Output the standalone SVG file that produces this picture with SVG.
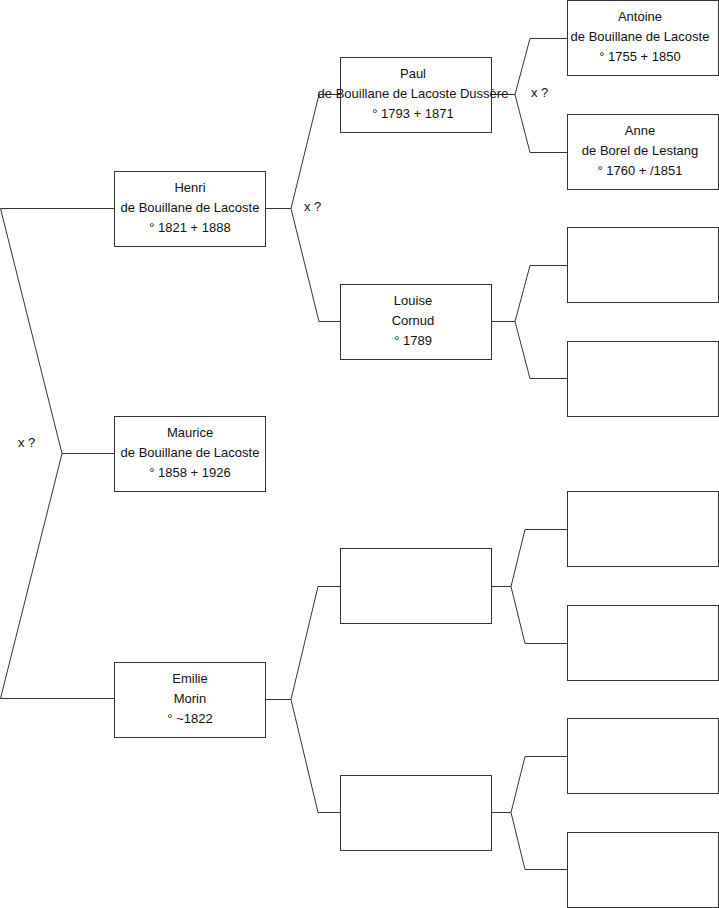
<svg xmlns="http://www.w3.org/2000/svg" width="719" height="908" viewBox="0 0 719 908">
<style>
.box{fill:#fff;stroke:#333;stroke-width:1}
.ln{fill:none;stroke:#333;stroke-width:1}
text{font-family:"Liberation Sans",Arial,sans-serif;font-size:13px;fill:#111}
.c{text-anchor:middle}
</style>
<rect width="719" height="908" fill="#fff"/>
<g id="connectors">
<polyline class="ln" points="114,208.5 0.5,208.5 62,453.5 0.5,698.5 114,698.5"/>
<line class="ln" x1="62" y1="453.5" x2="114" y2="453.5"/>
<polyline class="ln" points="340,94.5 319,94.5 291,208.5 319,321.5 340,321.5"/>
<line class="ln" x1="265" y1="208.5" x2="291" y2="208.5"/>
<polyline class="ln" points="340,586.5 318,586.5 291,699.5 318,812.5 340,812.5"/>
<line class="ln" x1="265" y1="699.5" x2="291" y2="699.5"/>
<polyline class="ln" points="567,38.5 530,38.5 515,94.5 530,152.5 567,152.5"/>
<line class="ln" x1="491" y1="94.5" x2="515" y2="94.5"/>
<polyline class="ln" points="567,265.5 530,265.5 515,321.5 530,378.5 567,378.5"/>
<line class="ln" x1="491" y1="321.5" x2="515" y2="321.5"/>
<polyline class="ln" points="567,529.5 525,529.5 511,586.5 525,643.5 567,643.5"/>
<line class="ln" x1="491" y1="586.5" x2="511" y2="586.5"/>
<polyline class="ln" points="567,756.5 525,756.5 511,812.5 525,869.5 567,869.5"/>
<line class="ln" x1="491" y1="812.5" x2="511" y2="812.5"/>
</g>
<g id="label-x1"><text x="304" y="211">x ?</text></g>
<g id="label-x2"><text x="531" y="97">x ?</text></g>
<g id="label-x3"><text x="18" y="447">x ?</text></g>
<g id="henri">
<rect class="box" x="114.5" y="171.5" width="151" height="75"/>
<text class="c" x="190" y="191.5">Henri</text>
<text class="c" x="190" y="211.5">de Bouillane de Lacoste</text>
<text class="c" x="190" y="231.5">° 1821 + 1888</text>
</g>
<g id="maurice">
<rect class="box" x="114.5" y="416.5" width="151" height="75"/>
<text class="c" x="190" y="437">Maurice</text>
<text class="c" x="190" y="457">de Bouillane de Lacoste</text>
<text class="c" x="190" y="477">° 1858 + 1926</text>
</g>
<g id="emilie">
<rect class="box" x="114.5" y="662.5" width="151" height="75"/>
<text class="c" x="190" y="683">Emilie</text>
<text class="c" x="190" y="703">Morin</text>
<text class="c" x="190" y="723">° ~1822</text>
</g>
<g id="paul">
<rect class="box" x="340.5" y="57.5" width="151" height="75"/>
<text class="c" x="413" y="77.5">Paul</text>
<text class="c" x="413" y="97.5">de Bouillane de Lacoste Dussère</text>
<text class="c" x="413" y="117.5">° 1793 + 1871</text>
</g>
<g id="louise">
<rect class="box" x="340.5" y="284.5" width="151" height="75"/>
<text class="c" x="413" y="304.5">Louise</text>
<text class="c" x="413" y="324.5">Cornud</text>
<text class="c" x="413" y="344.5">° 1789</text>
</g>
<g id="p3"><rect class="box" x="340.5" y="548.5" width="151" height="75"/></g>
<g id="p4"><rect class="box" x="340.5" y="775.5" width="151" height="75"/></g>
<g id="antoine">
<rect class="box" x="567.5" y="0.5" width="151" height="75"/>
<text class="c" x="640" y="20.5">Antoine</text>
<text class="c" x="640" y="40.5">de Bouillane de Lacoste</text>
<text class="c" x="640" y="60.5">° 1755 + 1850</text>
</g>
<g id="anne">
<rect class="box" x="567.5" y="114.5" width="151" height="75"/>
<text class="c" x="640" y="134.5">Anne</text>
<text class="c" x="640" y="154.5">de Borel de Lestang</text>
<text class="c" x="640" y="174.5">° 1760 + /1851</text>
</g>
<g id="g3"><rect class="box" x="567.5" y="227.5" width="151" height="75"/></g>
<g id="g4"><rect class="box" x="567.5" y="341.5" width="151" height="75"/></g>
<g id="g5"><rect class="box" x="567.5" y="491.5" width="151" height="75"/></g>
<g id="g6"><rect class="box" x="567.5" y="605.5" width="151" height="75"/></g>
<g id="g7"><rect class="box" x="567.5" y="718.5" width="151" height="75"/></g>
<g id="g8"><rect class="box" x="567.5" y="832.5" width="151" height="75"/></g>
</svg>
